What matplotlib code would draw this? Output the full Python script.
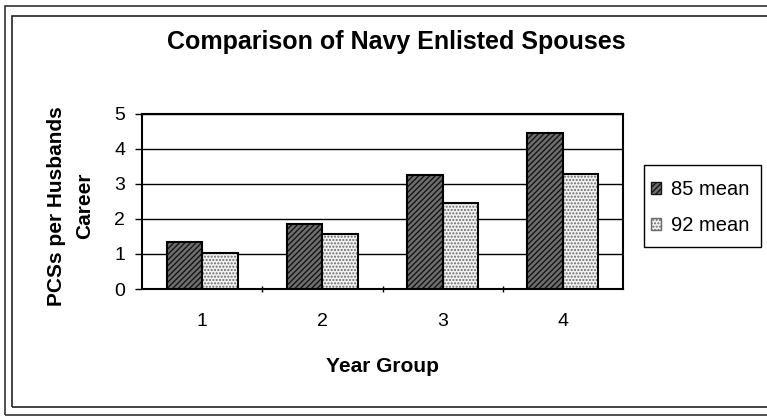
import matplotlib
matplotlib.use("Agg")
import matplotlib.pyplot as plt
import numpy as np
from matplotlib.patches import Patch, Rectangle

categories = ["1", "2", "3", "4"]
mean_85 = [1.33, 1.86, 3.27, 4.46]
mean_92 = [1.02, 1.58, 2.47, 3.29]
series_names = ["85 mean", "92 mean"]
yticks = [0, 1, 2, 3, 4, 5]

plt.rcParams['font.family'] = ['Liberation Sans', 'DejaVu Sans']
plt.rcParams['hatch.linewidth'] = 1.0

W, H = 767, 416
fig = plt.figure(figsize=(W / 100, H / 100), dpi=100)

# double border
fig.patches.append(Rectangle((5 / W, 1 - 415 / H), 1, (415 - 6) / H, transform=fig.transFigure,
                             fill=False, ec='#333333', lw=1.2))
fig.patches.append(Rectangle((12 / W, 1 - 407 / H), 1, (407 - 16) / H, transform=fig.transFigure,
                             fill=False, ec='#222222', lw=1.2))

ax = fig.add_axes([142 / W, 1 - 289 / H, (623 - 142) / W, (289 - 114) / H])
x = np.arange(len(categories))
bw = 0.295

styles = [
    dict(fc='#6e6e6e', hatch='//////', hc='#151515'),
    dict(fc='#f2f2f2', hatch='.....', hc='#6a6a6a'),
]
for i, vals in enumerate([mean_85, mean_92]):
    pos = x + (i - 0.5) * bw
    st = styles[i]
    ax.bar(pos, vals, bw, color=st['fc'], hatch=st['hatch'], edgecolor=st['hc'], lw=0, zorder=3)
    ax.bar(pos, vals, bw, fill=False, edgecolor='black', lw=1.5, zorder=4)

ax.set_xlim(-0.5, 3.5)
ax.set_ylim(0, 5)
ax.set_yticks(yticks)
ax.yaxis.grid(True, color='black', lw=1.0, zorder=1)
ax.set_axisbelow(True)
for s in ax.spines.values():
    s.set_linewidth(1.5)
ax.tick_params(axis='y', labelsize=14, length=5, width=1.0, direction='out', pad=7)
ax.set_xticks(x)
ax.set_xticklabels(categories)
ax.tick_params(axis='x', labelsize=14, length=0, pad=17)
ax.set_xticks([0.5, 1.5, 2.5], minor=True)
ax.tick_params(axis='x', which='minor', length=5, width=1.0, direction='inout')

ax.set_xlabel("Year Group", fontsize=15, fontweight='bold', va='center')
ax.xaxis.set_label_coords(0.5, (289 - 366) / 175)
ax.set_ylabel("PCSs per Husbands\nCareer", fontsize=15, fontweight='bold', va='center',
              linespacing=1.6)
ax.yaxis.set_label_coords((71 - 142) / 481, (289 - 206) / 175)

fig.text(396 / W, 1 - 42 / H, "Comparison of Navy Enlisted Spouses", ha='center', va='center',
         fontsize=18, fontweight='bold')

# legend frame
fig.patches.append(Rectangle((644 / W, 1 - 247 / H), (761 - 644) / W, (247 - 165) / H,
                             transform=fig.transFigure, fill=False, ec='black', lw=1.0))
handles = [Patch(facecolor=styles[i]['fc'], hatch=styles[i]['hatch'], edgecolor=styles[i]['hc'])
           for i in range(2)]
leg = fig.legend(handles, series_names, loc='upper left',
                 bbox_to_anchor=(651 / W, 1 - 180 / H), frameon=False,
                 fontsize=14.5, handlelength=0.5, handleheight=0.5, handletextpad=0.5,
                 labelspacing=0.85, borderpad=0, borderaxespad=0)

fig.savefig("out.png", dpi=100)
